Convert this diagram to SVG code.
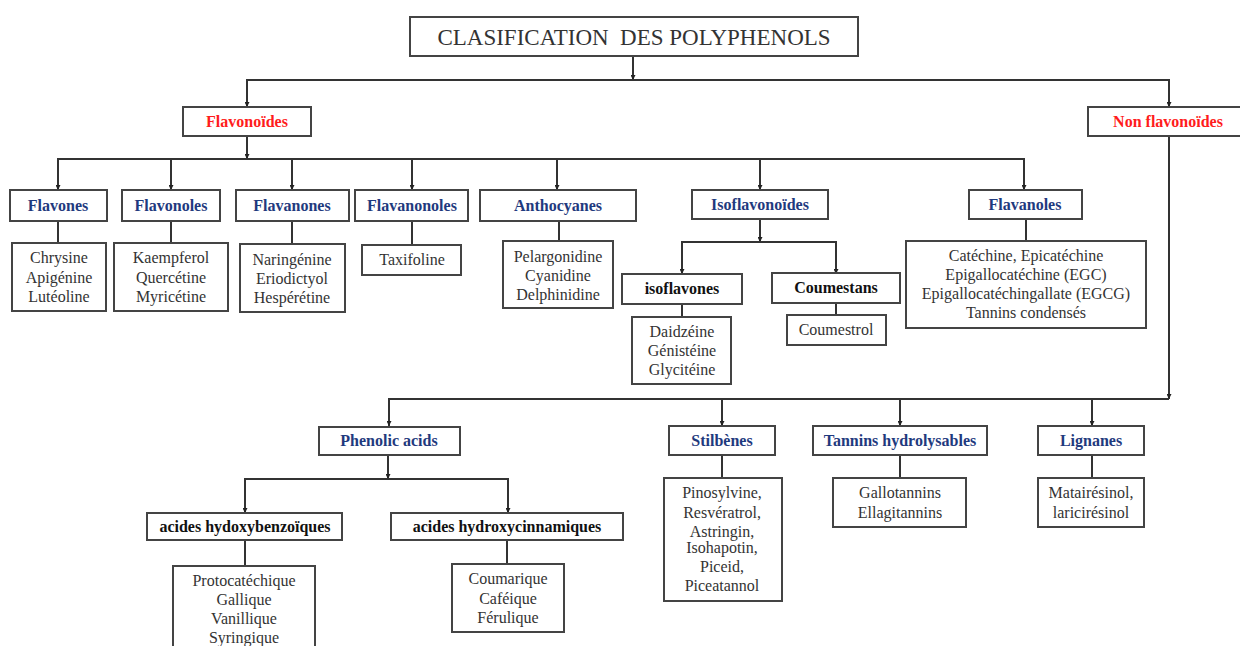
<svg xmlns="http://www.w3.org/2000/svg" width="1240" height="646" viewBox="0 0 1240 646">
<style>
.box{fill:#fff;stroke:#444;stroke-width:2}
.ln{fill:none;stroke:#333;stroke-width:2}
.t{font-family:"Liberation Serif","Times New Roman",serif;text-anchor:middle}
.h{font-size:16px;font-weight:bold;fill:#1f3a7e}
.r{font-size:16px;font-weight:bold;fill:#ff1c1c}
.k{font-size:16px;font-weight:bold;fill:#111}
.l{font-size:16px;fill:#333}
.title{font-size:23px;fill:#333}
</style>
<defs>
<marker id="ah" viewBox="0 0 10 10" refX="10" refY="5" markerWidth="5" markerHeight="5" orient="auto" markerUnits="userSpaceOnUse">
<path d="M0,0 L10,5 L0,10 z" fill="#222"/>
</marker>
</defs>
<rect width="1240" height="646" fill="#fff"/>
<g id="connectors">
<path class="ln" d="M633,56 V80" marker-end="url(#ah)"/>
<path class="ln" d="M247,107 V80 H1169 V107"/>
<path class="ln" d="M247,101 V107" marker-end="url(#ah)"/>
<path class="ln" d="M1169,101 V107" marker-end="url(#ah)"/>
<path class="ln" d="M247,136 V159" marker-end="url(#ah)"/>
<path class="ln" d="M58,190 V159 H1024 V190"/>
<path class="ln" d="M58,182 V190" marker-end="url(#ah)"/>
<path class="ln" d="M171,159 V190" marker-end="url(#ah)"/>
<path class="ln" d="M292,159 V190" marker-end="url(#ah)"/>
<path class="ln" d="M412,159 V190" marker-end="url(#ah)"/>
<path class="ln" d="M557,159 V190" marker-end="url(#ah)"/>
<path class="ln" d="M760,159 V190" marker-end="url(#ah)"/>
<path class="ln" d="M1024,182 V190" marker-end="url(#ah)"/>
<path class="ln" d="M58,221 V243"/>
<path class="ln" d="M171,221 V243"/>
<path class="ln" d="M292,221 V244"/>
<path class="ln" d="M412,221 V245"/>
<path class="ln" d="M559,221 V241"/>
<path class="ln" d="M1026,219 V241"/>
<path class="ln" d="M760,219 V242" marker-end="url(#ah)"/>
<path class="ln" d="M682,274 V242 H836 V274"/>
<path class="ln" d="M682,266 V274" marker-end="url(#ah)"/>
<path class="ln" d="M836,266 V274" marker-end="url(#ah)"/>
<path class="ln" d="M682,304 V317"/>
<path class="ln" d="M836,303 V315"/>
<path class="ln" d="M1169,136 V399" marker-end="url(#ah)"/>
<path class="ln" d="M389,426 V399 H1169"/>
<path class="ln" d="M389,418 V426" marker-end="url(#ah)"/>
<path class="ln" d="M722,399 V426" marker-end="url(#ah)"/>
<path class="ln" d="M900,399 V426" marker-end="url(#ah)"/>
<path class="ln" d="M1092,399 V426" marker-end="url(#ah)"/>
<path class="ln" d="M388,455 V479" marker-end="url(#ah)"/>
<path class="ln" d="M245,513 V479 H508 V513"/>
<path class="ln" d="M245,505 V513" marker-end="url(#ah)"/>
<path class="ln" d="M508,505 V513" marker-end="url(#ah)"/>
<path class="ln" d="M245,540 V566"/>
<path class="ln" d="M507,540 V564"/>
<path class="ln" d="M722,455 V478"/>
<path class="ln" d="M900,455 V478"/>
<path class="ln" d="M1092,455 V478"/>
</g>
<g id="title"><rect class="box" x="410" y="17" width="448" height="39"/><text class="t title" x="634" y="45">CLASIFICATION&#160; DES POLYPHENOLS</text></g>
<g id="flavonoides"><rect class="box" x="183" y="107" width="128" height="29"/><text class="t r" x="247" y="127">Flavonoïdes</text></g>
<g id="nonflavonoides"><rect class="box" x="1088" y="107" width="162" height="29"/><text class="t r" x="1168" y="127">Non flavonoïdes</text></g>
<g id="flavones"><rect class="box" x="10" y="190" width="97" height="31"/><text class="t h" x="58" y="211">Flavones</text></g>
<g id="flavonoles"><rect class="box" x="122" y="190" width="98" height="31"/><text class="t h" x="171" y="211">Flavonoles</text></g>
<g id="flavanones"><rect class="box" x="236" y="190" width="113" height="31"/><text class="t h" x="292" y="211">Flavanones</text></g>
<g id="flavanonoles"><rect class="box" x="355" y="190" width="113" height="31"/><text class="t h" x="412" y="211">Flavanonoles</text></g>
<g id="anthocyanes"><rect class="box" x="480" y="190" width="156" height="31"/><text class="t h" x="558" y="211">Anthocyanes</text></g>
<g id="isoflavonoides"><rect class="box" x="692" y="190" width="136" height="29"/><text class="t h" x="760" y="210">Isoflavonoïdes</text></g>
<g id="flavanoles"><rect class="box" x="969" y="190" width="113" height="29"/><text class="t h" x="1025" y="210">Flavanoles</text></g>
<g id="flavones-list"><rect class="box" x="12" y="243" width="94" height="68"/><text class="t l"><tspan x="59" y="263">Chrysine</tspan><tspan x="59" y="283">Apigénine</tspan><tspan x="59" y="302">Lutéoline</tspan></text></g>
<g id="flavonoles-list"><rect class="box" x="114" y="243" width="114" height="68"/><text class="t l"><tspan x="171" y="263">Kaempferol</tspan><tspan x="171" y="283">Quercétine</tspan><tspan x="171" y="302">Myricétine</tspan></text></g>
<g id="flavanones-list"><rect class="box" x="240" y="244" width="105" height="68"/><text class="t l"><tspan x="292" y="265">Naringénine</tspan><tspan x="292" y="284">Eriodictyol</tspan><tspan x="292" y="303">Hespérétine</tspan></text></g>
<g id="flavanonoles-list"><rect class="box" x="362" y="245" width="99" height="30"/><text class="t l" x="412" y="265">Taxifoline</text></g>
<g id="anthocyanes-list"><rect class="box" x="503" y="241" width="110" height="67"/><text class="t l"><tspan x="558" y="262">Pelargonidine</tspan><tspan x="558" y="281">Cyanidine</tspan><tspan x="558" y="300">Delphinidine</tspan></text></g>
<g id="isoflavones"><rect class="box" x="622" y="274" width="120" height="30"/><text class="t k" x="682" y="294">isoflavones</text></g>
<g id="coumestans"><rect class="box" x="772" y="273" width="128" height="30"/><text class="t k" x="836" y="293">Coumestans</text></g>
<g id="isoflavones-list"><rect class="box" x="632" y="317" width="99" height="67"/><text class="t l"><tspan x="682" y="337">Daidzéine</tspan><tspan x="682" y="356">Génistéine</tspan><tspan x="682" y="375">Glycitéine</tspan></text></g>
<g id="coumestans-list"><rect class="box" x="787" y="315" width="99" height="30"/><text class="t l" x="836" y="335">Coumestrol</text></g>
<g id="flavanoles-list"><rect class="box" x="906" y="241" width="240" height="87"/><text class="t l"><tspan x="1026" y="261">Catéchine, Epicatéchine</tspan><tspan x="1026" y="280">Epigallocatéchine (EGC)</tspan><tspan x="1026" y="299">Epigallocatéchingallate (EGCG)</tspan><tspan x="1026" y="318">Tannins condensés</tspan></text></g>
<g id="phenolic"><rect class="box" x="319" y="427" width="141" height="28"/><text class="t h" x="389" y="446">Phenolic acids</text></g>
<g id="stilbenes"><rect class="box" x="669" y="426" width="106" height="29"/><text class="t h" x="722" y="446">Stilbènes</text></g>
<g id="tannins"><rect class="box" x="813" y="426" width="174" height="29"/><text class="t h" x="900" y="446">Tannins hydrolysables</text></g>
<g id="lignanes"><rect class="box" x="1038" y="426" width="106" height="29"/><text class="t h" x="1091" y="446">Lignanes</text></g>
<g id="hydroxybenzoiques"><rect class="box" x="147" y="513" width="195" height="27"/><text class="t k" x="245" y="532">acides hydoxybenzoïques</text></g>
<g id="hydroxycinnamiques"><rect class="box" x="391" y="513" width="232" height="27"/><text class="t k" x="507" y="532">acides hydroxycinnamiques</text></g>
<g id="hydroxybenzoiques-list"><rect class="box" x="173" y="566" width="142" height="90"/><text class="t l"><tspan x="244" y="586">Protocatéchique</tspan><tspan x="244" y="605">Gallique</tspan><tspan x="244" y="624">Vanillique</tspan><tspan x="244" y="643">Syringique</tspan></text></g>
<g id="hydroxycinnamiques-list"><rect class="box" x="452" y="564" width="112" height="68"/><text class="t l"><tspan x="508" y="584">Coumarique</tspan><tspan x="508" y="604">Caféique</tspan><tspan x="508" y="623">Férulique</tspan></text></g>
<g id="stilbenes-list"><rect class="box" x="664" y="478" width="118" height="123"/><text class="t l"><tspan x="722" y="498">Pinosylvine,</tspan><tspan x="722" y="518">Resvératrol,</tspan><tspan x="722" y="537">Astringin,</tspan><tspan x="722" y="553">Isohapotin,</tspan><tspan x="722" y="572">Piceid,</tspan><tspan x="722" y="591">Piceatannol</tspan></text></g>
<g id="tannins-list"><rect class="box" x="833" y="478" width="133" height="49"/><text class="t l"><tspan x="900" y="498">Gallotannins</tspan><tspan x="900" y="518">Ellagitannins</tspan></text></g>
<g id="lignanes-list"><rect class="box" x="1038" y="478" width="106" height="49"/><text class="t l"><tspan x="1091" y="498">Matairésinol,</tspan><tspan x="1091" y="518">laricirésinol</tspan></text></g>
</svg>
